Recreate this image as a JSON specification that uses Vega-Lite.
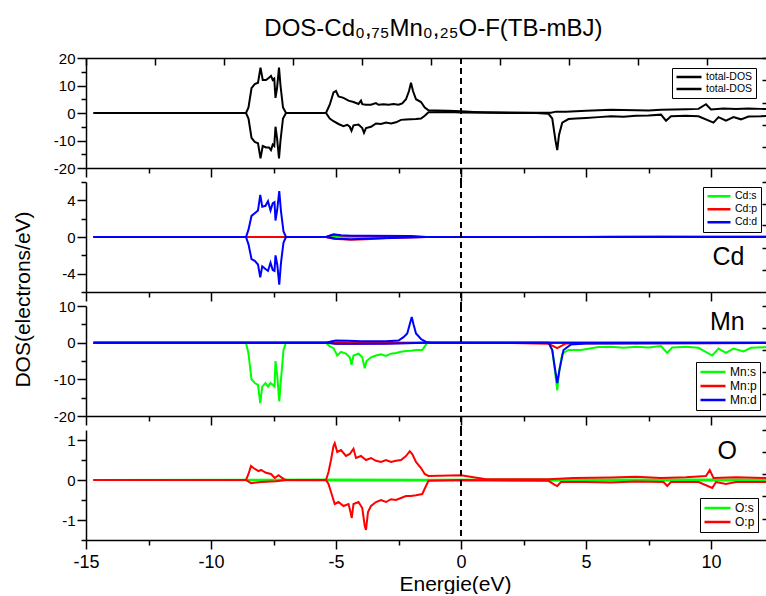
{
  "$schema": "https://vega.github.io/schema/vega-lite/v6.json",
  "background": "white",
  "padding": {"left": 11, "top": 17, "right": 0, "bottom": 0},
  "title": {
    "text": "DOS-Cd₀,₇₅Mn₀,₂₅O-F(TB-mBJ)",
    "font": "Liberation Sans",
    "fontSize": 24,
    "fontWeight": "normal",
    "color": "black",
    "anchor": "middle",
    "dx": 44,
    "offset": 10
  },
  "config": {
    "font": "Liberation Sans",
    "view": {"stroke": null},
    "axis": {
      "grid": false,
      "domainColor": "black",
      "domainWidth": 1.5,
      "tickColor": "black",
      "tickWidth": 1.5,
      "labelColor": "black",
      "labelFont": "Liberation Sans",
      "labelFlush": false,
      "labelOverlap": false,
      "labelBound": false,
      "titleColor": "black",
      "titleFont": "Liberation Sans",
      "titleFontWeight": "normal"
    },
    "legend": {
      "title": null,
      "strokeColor": "black",
      "strokeWidth": 1,
      "fillColor": "white",
      "cornerRadius": 0,
      "padding": 3,
      "rowPadding": 0,
      "labelOffset": 3,
      "labelFont": "Liberation Sans",
      "labelColor": "black",
      "symbolType": "stroke",
      "symbolStrokeWidth": 2.5
    }
  },
  "datasets": {
    "tot": [
      {"e": -14.7, "dos": 0, "spin": "up"}, {"e": -8.6, "dos": 0, "spin": "up"}, {"e": -8.5, "dos": 2, "spin": "up"},
      {"e": -8.38, "dos": 9, "spin": "up"}, {"e": -8.25, "dos": 10.5, "spin": "up"}, {"e": -8.12, "dos": 11, "spin": "up"},
      {"e": -8.02, "dos": 16.5, "spin": "up"}, {"e": -7.93, "dos": 12, "spin": "up"}, {"e": -7.8, "dos": 12, "spin": "up"},
      {"e": -7.68, "dos": 12.8, "spin": "up"}, {"e": -7.6, "dos": 13.5, "spin": "up"}, {"e": -7.53, "dos": 12, "spin": "up"},
      {"e": -7.47, "dos": 12.5, "spin": "up"}, {"e": -7.42, "dos": 5.5, "spin": "up"}, {"e": -7.36, "dos": 9, "spin": "up"},
      {"e": -7.28, "dos": 16.5, "spin": "up"}, {"e": -7.22, "dos": 10, "spin": "up"}, {"e": -7.12, "dos": 2, "spin": "up"},
      {"e": -7.0, "dos": 0, "spin": "up"}, {"e": -5.4, "dos": 0, "spin": "up"}, {"e": -5.25, "dos": 3, "spin": "up"},
      {"e": -5.1, "dos": 7.5, "spin": "up"}, {"e": -5.0, "dos": 8, "spin": "up"}, {"e": -4.9, "dos": 6, "spin": "up"},
      {"e": -4.7, "dos": 5.5, "spin": "up"}, {"e": -4.5, "dos": 4.5, "spin": "up"}, {"e": -4.3, "dos": 4, "spin": "up"},
      {"e": -4.1, "dos": 3.3, "spin": "up"}, {"e": -4.0, "dos": 4.5, "spin": "up"}, {"e": -3.95, "dos": 3.2, "spin": "up"},
      {"e": -3.8, "dos": 3, "spin": "up"}, {"e": -3.6, "dos": 3, "spin": "up"}, {"e": -3.4, "dos": 3.6, "spin": "up"},
      {"e": -3.3, "dos": 3, "spin": "up"}, {"e": -3.1, "dos": 3.2, "spin": "up"}, {"e": -2.9, "dos": 3, "spin": "up"},
      {"e": -2.7, "dos": 3.3, "spin": "up"}, {"e": -2.5, "dos": 3, "spin": "up"}, {"e": -2.35, "dos": 3.5, "spin": "up"},
      {"e": -2.2, "dos": 5, "spin": "up"}, {"e": -2.08, "dos": 8, "spin": "up"}, {"e": -2.0, "dos": 11, "spin": "up"},
      {"e": -1.92, "dos": 8, "spin": "up"}, {"e": -1.8, "dos": 5, "spin": "up"}, {"e": -1.6, "dos": 4, "spin": "up"},
      {"e": -1.45, "dos": 2, "spin": "up"}, {"e": -1.3, "dos": 1, "spin": "up"}, {"e": -1.0, "dos": 0.9, "spin": "up"},
      {"e": -0.5, "dos": 0.8, "spin": "up"}, {"e": 0, "dos": 0.6, "spin": "up"}, {"e": 0.5, "dos": 0.4, "spin": "up"},
      {"e": 1, "dos": 0.3, "spin": "up"}, {"e": 2, "dos": 0.2, "spin": "up"}, {"e": 3, "dos": 0.1, "spin": "up"},
      {"e": 3.6, "dos": 0.1, "spin": "up"}, {"e": 3.8, "dos": 0.5, "spin": "up"}, {"e": 4.2, "dos": 0.5, "spin": "up"},
      {"e": 5, "dos": 0.8, "spin": "up"}, {"e": 5.5, "dos": 1, "spin": "up"}, {"e": 6, "dos": 1.2, "spin": "up"},
      {"e": 6.5, "dos": 1.1, "spin": "up"}, {"e": 7, "dos": 1, "spin": "up"}, {"e": 7.5, "dos": 0.9, "spin": "up"},
      {"e": 8, "dos": 1.2, "spin": "up"}, {"e": 8.5, "dos": 1.3, "spin": "up"}, {"e": 9, "dos": 1.4, "spin": "up"},
      {"e": 9.5, "dos": 1.5, "spin": "up"}, {"e": 9.8, "dos": 3.2, "spin": "up"}, {"e": 10.0, "dos": 1.3, "spin": "up"},
      {"e": 10.5, "dos": 1.6, "spin": "up"}, {"e": 11, "dos": 1.5, "spin": "up"}, {"e": 11.5, "dos": 1.6, "spin": "up"},
      {"e": 12, "dos": 1.5, "spin": "up"}, {"e": 12.3, "dos": 1.4, "spin": "up"},

      {"e": -14.7, "dos": 0, "spin": "dn"}, {"e": -8.6, "dos": 0, "spin": "dn"}, {"e": -8.5, "dos": -2, "spin": "dn"},
      {"e": -8.38, "dos": -9, "spin": "dn"}, {"e": -8.25, "dos": -10.5, "spin": "dn"}, {"e": -8.12, "dos": -11, "spin": "dn"},
      {"e": -8.02, "dos": -16.5, "spin": "dn"}, {"e": -7.93, "dos": -12, "spin": "dn"}, {"e": -7.8, "dos": -12.5, "spin": "dn"},
      {"e": -7.68, "dos": -12.5, "spin": "dn"}, {"e": -7.6, "dos": -13.5, "spin": "dn"}, {"e": -7.53, "dos": -11.5, "spin": "dn"},
      {"e": -7.47, "dos": -12, "spin": "dn"}, {"e": -7.42, "dos": -5, "spin": "dn"}, {"e": -7.36, "dos": -9, "spin": "dn"},
      {"e": -7.28, "dos": -16.5, "spin": "dn"}, {"e": -7.22, "dos": -10, "spin": "dn"}, {"e": -7.12, "dos": -2, "spin": "dn"},
      {"e": -7.0, "dos": 0, "spin": "dn"}, {"e": -5.4, "dos": 0, "spin": "dn"}, {"e": -5.25, "dos": -2, "spin": "dn"},
      {"e": -5.1, "dos": -3, "spin": "dn"}, {"e": -4.9, "dos": -4, "spin": "dn"}, {"e": -4.7, "dos": -4.8, "spin": "dn"},
      {"e": -4.55, "dos": -4.3, "spin": "dn"}, {"e": -4.45, "dos": -5, "spin": "dn"}, {"e": -4.38, "dos": -6.5, "spin": "dn"},
      {"e": -4.3, "dos": -4.5, "spin": "dn"}, {"e": -4.1, "dos": -4.2, "spin": "dn"}, {"e": -3.95, "dos": -5.5, "spin": "dn"},
      {"e": -3.88, "dos": -7.2, "spin": "dn"}, {"e": -3.8, "dos": -5.5, "spin": "dn"}, {"e": -3.6, "dos": -5, "spin": "dn"},
      {"e": -3.4, "dos": -3.8, "spin": "dn"}, {"e": -3.2, "dos": -4, "spin": "dn"}, {"e": -3.0, "dos": -3.5, "spin": "dn"},
      {"e": -2.8, "dos": -3.8, "spin": "dn"}, {"e": -2.6, "dos": -3.4, "spin": "dn"}, {"e": -2.4, "dos": -2.5, "spin": "dn"},
      {"e": -2.2, "dos": -2.4, "spin": "dn"}, {"e": -2.0, "dos": -2.3, "spin": "dn"}, {"e": -1.8, "dos": -2.2, "spin": "dn"},
      {"e": -1.6, "dos": -2, "spin": "dn"}, {"e": -1.45, "dos": -1, "spin": "dn"}, {"e": -1.3, "dos": 0.3, "spin": "dn"},
      {"e": -0.5, "dos": 0.4, "spin": "dn"}, {"e": 0, "dos": 0.2, "spin": "dn"}, {"e": 1, "dos": 0.1, "spin": "dn"},
      {"e": 2, "dos": 0, "spin": "dn"}, {"e": 3, "dos": 0, "spin": "dn"}, {"e": 3.5, "dos": -0.3, "spin": "dn"},
      {"e": 3.65, "dos": -2, "spin": "dn"}, {"e": 3.78, "dos": -10, "spin": "dn"}, {"e": 3.85, "dos": -13.5, "spin": "dn"},
      {"e": 3.92, "dos": -8, "spin": "dn"}, {"e": 4.05, "dos": -3.5, "spin": "dn"}, {"e": 4.3, "dos": -2.2, "spin": "dn"},
      {"e": 4.6, "dos": -2, "spin": "dn"}, {"e": 5, "dos": -1.8, "spin": "dn"}, {"e": 5.5, "dos": -1.5, "spin": "dn"},
      {"e": 6, "dos": -1.2, "spin": "dn"}, {"e": 6.5, "dos": -1.4, "spin": "dn"}, {"e": 7, "dos": -1, "spin": "dn"},
      {"e": 7.5, "dos": -0.9, "spin": "dn"}, {"e": 8, "dos": -0.6, "spin": "dn"}, {"e": 8.2, "dos": -2.8, "spin": "dn"},
      {"e": 8.4, "dos": -1.2, "spin": "dn"}, {"e": 9, "dos": -1, "spin": "dn"}, {"e": 9.5, "dos": -1.2, "spin": "dn"},
      {"e": 10.1, "dos": -3.5, "spin": "dn"}, {"e": 10.3, "dos": -1.5, "spin": "dn"}, {"e": 10.6, "dos": -2.8, "spin": "dn"},
      {"e": 10.9, "dos": -1.5, "spin": "dn"}, {"e": 11.2, "dos": -2.3, "spin": "dn"}, {"e": 11.5, "dos": -1.3, "spin": "dn"},
      {"e": 12, "dos": -1.2, "spin": "dn"}, {"e": 12.3, "dos": -1, "spin": "dn"}
    ],
    "cd": [
      {"e": -14.7, "dos": 0, "orb": "Cd:s", "spin": "up"}, {"e": 5, "dos": 0, "orb": "Cd:s", "spin": "up"},
      {"e": 6, "dos": 0.05, "orb": "Cd:s", "spin": "up"}, {"e": 8, "dos": 0.08, "orb": "Cd:s", "spin": "up"},
      {"e": 10, "dos": 0.05, "orb": "Cd:s", "spin": "up"}, {"e": 12.3, "dos": 0.05, "orb": "Cd:s", "spin": "up"},
      {"e": -14.7, "dos": 0, "orb": "Cd:s", "spin": "dn"}, {"e": 12.3, "dos": 0, "orb": "Cd:s", "spin": "dn"},

      {"e": -14.7, "dos": 0, "orb": "Cd:p", "spin": "up"}, {"e": -5.4, "dos": 0, "orb": "Cd:p", "spin": "up"},
      {"e": -5.1, "dos": 0.25, "orb": "Cd:p", "spin": "up"}, {"e": -4.8, "dos": 0.15, "orb": "Cd:p", "spin": "up"},
      {"e": -4.2, "dos": 0.12, "orb": "Cd:p", "spin": "up"}, {"e": -3, "dos": 0.08, "orb": "Cd:p", "spin": "up"},
      {"e": -1.4, "dos": 0, "orb": "Cd:p", "spin": "up"}, {"e": 12.3, "dos": 0.02, "orb": "Cd:p", "spin": "up"},
      {"e": -14.7, "dos": 0, "orb": "Cd:p", "spin": "dn"}, {"e": -5.4, "dos": 0, "orb": "Cd:p", "spin": "dn"},
      {"e": -5.1, "dos": -0.2, "orb": "Cd:p", "spin": "dn"}, {"e": -4.4, "dos": -0.3, "orb": "Cd:p", "spin": "dn"},
      {"e": -3.8, "dos": -0.25, "orb": "Cd:p", "spin": "dn"}, {"e": -3, "dos": -0.1, "orb": "Cd:p", "spin": "dn"},
      {"e": -1.4, "dos": 0, "orb": "Cd:p", "spin": "dn"}, {"e": 12.3, "dos": 0, "orb": "Cd:p", "spin": "dn"},

      {"e": -14.7, "dos": 0, "orb": "Cd:d", "spin": "up"}, {"e": -8.6, "dos": 0, "orb": "Cd:d", "spin": "up"},
      {"e": -8.5, "dos": 0.8, "orb": "Cd:d", "spin": "up"}, {"e": -8.38, "dos": 2.3, "orb": "Cd:d", "spin": "up"},
      {"e": -8.25, "dos": 2.6, "orb": "Cd:d", "spin": "up"}, {"e": -8.12, "dos": 2.9, "orb": "Cd:d", "spin": "up"},
      {"e": -8.03, "dos": 4.6, "orb": "Cd:d", "spin": "up"}, {"e": -7.95, "dos": 3.3, "orb": "Cd:d", "spin": "up"},
      {"e": -7.82, "dos": 3.4, "orb": "Cd:d", "spin": "up"}, {"e": -7.72, "dos": 3.9, "orb": "Cd:d", "spin": "up"},
      {"e": -7.62, "dos": 2.9, "orb": "Cd:d", "spin": "up"}, {"e": -7.53, "dos": 3.7, "orb": "Cd:d", "spin": "up"},
      {"e": -7.46, "dos": 3.8, "orb": "Cd:d", "spin": "up"}, {"e": -7.42, "dos": 1.8, "orb": "Cd:d", "spin": "up"},
      {"e": -7.35, "dos": 3, "orb": "Cd:d", "spin": "up"}, {"e": -7.27, "dos": 5.0, "orb": "Cd:d", "spin": "up"},
      {"e": -7.2, "dos": 2.8, "orb": "Cd:d", "spin": "up"}, {"e": -7.1, "dos": 0.6, "orb": "Cd:d", "spin": "up"},
      {"e": -7.0, "dos": 0, "orb": "Cd:d", "spin": "up"}, {"e": -5.4, "dos": 0, "orb": "Cd:d", "spin": "up"},
      {"e": -5.1, "dos": 0.3, "orb": "Cd:d", "spin": "up"}, {"e": -4.8, "dos": 0.2, "orb": "Cd:d", "spin": "up"},
      {"e": -4.4, "dos": 0.15, "orb": "Cd:d", "spin": "up"}, {"e": -3.8, "dos": 0.15, "orb": "Cd:d", "spin": "up"},
      {"e": -2, "dos": 0.1, "orb": "Cd:d", "spin": "up"}, {"e": -1.4, "dos": 0, "orb": "Cd:d", "spin": "up"},
      {"e": 12.3, "dos": 0, "orb": "Cd:d", "spin": "up"},
      {"e": -14.7, "dos": 0, "orb": "Cd:d", "spin": "dn"}, {"e": -8.6, "dos": 0, "orb": "Cd:d", "spin": "dn"},
      {"e": -8.5, "dos": -0.8, "orb": "Cd:d", "spin": "dn"}, {"e": -8.38, "dos": -2.4, "orb": "Cd:d", "spin": "dn"},
      {"e": -8.25, "dos": -2.6, "orb": "Cd:d", "spin": "dn"}, {"e": -8.12, "dos": -3, "orb": "Cd:d", "spin": "dn"},
      {"e": -8.03, "dos": -4.4, "orb": "Cd:d", "spin": "dn"}, {"e": -7.95, "dos": -3.2, "orb": "Cd:d", "spin": "dn"},
      {"e": -7.82, "dos": -3.5, "orb": "Cd:d", "spin": "dn"}, {"e": -7.72, "dos": -3.7, "orb": "Cd:d", "spin": "dn"},
      {"e": -7.62, "dos": -2.8, "orb": "Cd:d", "spin": "dn"}, {"e": -7.53, "dos": -3.6, "orb": "Cd:d", "spin": "dn"},
      {"e": -7.46, "dos": -3.7, "orb": "Cd:d", "spin": "dn"}, {"e": -7.42, "dos": -2, "orb": "Cd:d", "spin": "dn"},
      {"e": -7.35, "dos": -3, "orb": "Cd:d", "spin": "dn"}, {"e": -7.27, "dos": -5.2, "orb": "Cd:d", "spin": "dn"},
      {"e": -7.2, "dos": -2.8, "orb": "Cd:d", "spin": "dn"}, {"e": -7.1, "dos": -0.6, "orb": "Cd:d", "spin": "dn"},
      {"e": -7.0, "dos": 0, "orb": "Cd:d", "spin": "dn"}, {"e": -5.4, "dos": 0, "orb": "Cd:d", "spin": "dn"},
      {"e": -5.0, "dos": -0.2, "orb": "Cd:d", "spin": "dn"}, {"e": -4.4, "dos": -0.25, "orb": "Cd:d", "spin": "dn"},
      {"e": -3.8, "dos": -0.2, "orb": "Cd:d", "spin": "dn"}, {"e": -1.4, "dos": 0, "orb": "Cd:d", "spin": "dn"},
      {"e": 12.3, "dos": 0, "orb": "Cd:d", "spin": "dn"}
    ],
    "mn": [
      {"e": -14.7, "dos": 0, "orb": "Mn:s", "spin": "up"}, {"e": 12.3, "dos": 0, "orb": "Mn:s", "spin": "up"},
      {"e": -14.7, "dos": 0, "orb": "Mn:s", "spin": "dn"}, {"e": -8.6, "dos": 0, "orb": "Mn:s", "spin": "dn"},
      {"e": -8.5, "dos": -3, "orb": "Mn:s", "spin": "dn"}, {"e": -8.38, "dos": -10, "orb": "Mn:s", "spin": "dn"},
      {"e": -8.25, "dos": -11, "orb": "Mn:s", "spin": "dn"}, {"e": -8.12, "dos": -11.5, "orb": "Mn:s", "spin": "dn"},
      {"e": -8.03, "dos": -16.5, "orb": "Mn:s", "spin": "dn"}, {"e": -7.95, "dos": -12, "orb": "Mn:s", "spin": "dn"},
      {"e": -7.82, "dos": -11, "orb": "Mn:s", "spin": "dn"}, {"e": -7.72, "dos": -12, "orb": "Mn:s", "spin": "dn"},
      {"e": -7.62, "dos": -11, "orb": "Mn:s", "spin": "dn"}, {"e": -7.53, "dos": -11.5, "orb": "Mn:s", "spin": "dn"},
      {"e": -7.46, "dos": -12, "orb": "Mn:s", "spin": "dn"}, {"e": -7.42, "dos": -5, "orb": "Mn:s", "spin": "dn"},
      {"e": -7.35, "dos": -9, "orb": "Mn:s", "spin": "dn"}, {"e": -7.27, "dos": -16, "orb": "Mn:s", "spin": "dn"},
      {"e": -7.2, "dos": -10, "orb": "Mn:s", "spin": "dn"}, {"e": -7.1, "dos": -2, "orb": "Mn:s", "spin": "dn"},
      {"e": -7.0, "dos": 0, "orb": "Mn:s", "spin": "dn"}, {"e": -5.4, "dos": 0, "orb": "Mn:s", "spin": "dn"},
      {"e": -5.25, "dos": -1, "orb": "Mn:s", "spin": "dn"}, {"e": -5.1, "dos": -1.5, "orb": "Mn:s", "spin": "dn"},
      {"e": -4.95, "dos": -3.5, "orb": "Mn:s", "spin": "dn"}, {"e": -4.8, "dos": -2.5, "orb": "Mn:s", "spin": "dn"},
      {"e": -4.6, "dos": -3, "orb": "Mn:s", "spin": "dn"}, {"e": -4.45, "dos": -4, "orb": "Mn:s", "spin": "dn"},
      {"e": -4.38, "dos": -6, "orb": "Mn:s", "spin": "dn"}, {"e": -4.3, "dos": -3.5, "orb": "Mn:s", "spin": "dn"},
      {"e": -4.1, "dos": -3, "orb": "Mn:s", "spin": "dn"}, {"e": -3.95, "dos": -4, "orb": "Mn:s", "spin": "dn"},
      {"e": -3.85, "dos": -7, "orb": "Mn:s", "spin": "dn"}, {"e": -3.78, "dos": -5, "orb": "Mn:s", "spin": "dn"},
      {"e": -3.6, "dos": -4, "orb": "Mn:s", "spin": "dn"}, {"e": -3.4, "dos": -3.5, "orb": "Mn:s", "spin": "dn"},
      {"e": -3.2, "dos": -3.2, "orb": "Mn:s", "spin": "dn"}, {"e": -3.0, "dos": -3.6, "orb": "Mn:s", "spin": "dn"},
      {"e": -2.8, "dos": -3, "orb": "Mn:s", "spin": "dn"}, {"e": -2.6, "dos": -2.8, "orb": "Mn:s", "spin": "dn"},
      {"e": -2.4, "dos": -2.5, "orb": "Mn:s", "spin": "dn"}, {"e": -2.2, "dos": -2.3, "orb": "Mn:s", "spin": "dn"},
      {"e": -2.0, "dos": -2.2, "orb": "Mn:s", "spin": "dn"}, {"e": -1.8, "dos": -2, "orb": "Mn:s", "spin": "dn"},
      {"e": -1.55, "dos": -2, "orb": "Mn:s", "spin": "dn"}, {"e": -1.45, "dos": -1, "orb": "Mn:s", "spin": "dn"},
      {"e": -1.35, "dos": 0, "orb": "Mn:s", "spin": "dn"}, {"e": 3.5, "dos": 0, "orb": "Mn:s", "spin": "dn"},
      {"e": 3.65, "dos": -2, "orb": "Mn:s", "spin": "dn"}, {"e": 3.78, "dos": -9, "orb": "Mn:s", "spin": "dn"},
      {"e": 3.85, "dos": -13, "orb": "Mn:s", "spin": "dn"}, {"e": 3.92, "dos": -8, "orb": "Mn:s", "spin": "dn"},
      {"e": 4.05, "dos": -3, "orb": "Mn:s", "spin": "dn"}, {"e": 4.3, "dos": -2, "orb": "Mn:s", "spin": "dn"},
      {"e": 4.8, "dos": -2, "orb": "Mn:s", "spin": "dn"}, {"e": 5.5, "dos": -1.2, "orb": "Mn:s", "spin": "dn"},
      {"e": 6, "dos": -1.1, "orb": "Mn:s", "spin": "dn"}, {"e": 6.5, "dos": -1.4, "orb": "Mn:s", "spin": "dn"},
      {"e": 7, "dos": -1.1, "orb": "Mn:s", "spin": "dn"}, {"e": 7.5, "dos": -1.3, "orb": "Mn:s", "spin": "dn"},
      {"e": 8, "dos": -0.9, "orb": "Mn:s", "spin": "dn"}, {"e": 8.25, "dos": -2.8, "orb": "Mn:s", "spin": "dn"},
      {"e": 8.45, "dos": -1.3, "orb": "Mn:s", "spin": "dn"}, {"e": 9, "dos": -1.1, "orb": "Mn:s", "spin": "dn"},
      {"e": 9.5, "dos": -1.4, "orb": "Mn:s", "spin": "dn"}, {"e": 10.05, "dos": -3.5, "orb": "Mn:s", "spin": "dn"},
      {"e": 10.3, "dos": -1.6, "orb": "Mn:s", "spin": "dn"}, {"e": 10.6, "dos": -2.8, "orb": "Mn:s", "spin": "dn"},
      {"e": 10.9, "dos": -1.6, "orb": "Mn:s", "spin": "dn"}, {"e": 11.3, "dos": -2.4, "orb": "Mn:s", "spin": "dn"},
      {"e": 11.6, "dos": -1.4, "orb": "Mn:s", "spin": "dn"}, {"e": 12.3, "dos": -1.2, "orb": "Mn:s", "spin": "dn"},

      {"e": -14.7, "dos": 0, "orb": "Mn:p", "spin": "up"}, {"e": 12.3, "dos": 0, "orb": "Mn:p", "spin": "up"},
      {"e": -14.7, "dos": 0, "orb": "Mn:p", "spin": "dn"}, {"e": -5.3, "dos": 0, "orb": "Mn:p", "spin": "dn"},
      {"e": -5.0, "dos": -0.3, "orb": "Mn:p", "spin": "dn"}, {"e": -4.0, "dos": -0.3, "orb": "Mn:p", "spin": "dn"},
      {"e": -1.4, "dos": 0, "orb": "Mn:p", "spin": "dn"}, {"e": 2, "dos": -0.1, "orb": "Mn:p", "spin": "dn"},
      {"e": 3.5, "dos": -0.3, "orb": "Mn:p", "spin": "dn"}, {"e": 3.85, "dos": -1.5, "orb": "Mn:p", "spin": "dn"},
      {"e": 4.2, "dos": -0.2, "orb": "Mn:p", "spin": "dn"}, {"e": 12.3, "dos": -0.1, "orb": "Mn:p", "spin": "dn"},

      {"e": -14.7, "dos": 0, "orb": "Mn:d", "spin": "up"}, {"e": -5.4, "dos": 0, "orb": "Mn:d", "spin": "up"},
      {"e": -5.2, "dos": 0.3, "orb": "Mn:d", "spin": "up"}, {"e": -5.0, "dos": 0.6, "orb": "Mn:d", "spin": "up"},
      {"e": -4.5, "dos": 0.5, "orb": "Mn:d", "spin": "up"}, {"e": -4.0, "dos": 0.4, "orb": "Mn:d", "spin": "up"},
      {"e": -3.0, "dos": 0.4, "orb": "Mn:d", "spin": "up"}, {"e": -2.5, "dos": 0.6, "orb": "Mn:d", "spin": "up"},
      {"e": -2.3, "dos": 1.5, "orb": "Mn:d", "spin": "up"}, {"e": -2.15, "dos": 2.5, "orb": "Mn:d", "spin": "up"},
      {"e": -2.05, "dos": 5, "orb": "Mn:d", "spin": "up"}, {"e": -1.97, "dos": 7, "orb": "Mn:d", "spin": "up"},
      {"e": -1.9, "dos": 5, "orb": "Mn:d", "spin": "up"}, {"e": -1.8, "dos": 2.5, "orb": "Mn:d", "spin": "up"},
      {"e": -1.6, "dos": 1, "orb": "Mn:d", "spin": "up"}, {"e": -1.4, "dos": 0.2, "orb": "Mn:d", "spin": "up"},
      {"e": -1.2, "dos": 0, "orb": "Mn:d", "spin": "up"}, {"e": 12.3, "dos": 0, "orb": "Mn:d", "spin": "up"},
      {"e": -14.7, "dos": 0, "orb": "Mn:d", "spin": "dn"}, {"e": -5.4, "dos": 0, "orb": "Mn:d", "spin": "dn"},
      {"e": -5.0, "dos": -0.3, "orb": "Mn:d", "spin": "dn"}, {"e": -3.0, "dos": -0.3, "orb": "Mn:d", "spin": "dn"},
      {"e": -1.4, "dos": 0, "orb": "Mn:d", "spin": "dn"}, {"e": 3.5, "dos": 0, "orb": "Mn:d", "spin": "dn"},
      {"e": 3.65, "dos": -2, "orb": "Mn:d", "spin": "dn"}, {"e": 3.78, "dos": -8, "orb": "Mn:d", "spin": "dn"},
      {"e": 3.85, "dos": -11, "orb": "Mn:d", "spin": "dn"}, {"e": 3.95, "dos": -7, "orb": "Mn:d", "spin": "dn"},
      {"e": 4.1, "dos": -2, "orb": "Mn:d", "spin": "dn"}, {"e": 4.4, "dos": -0.5, "orb": "Mn:d", "spin": "dn"},
      {"e": 5, "dos": -0.2, "orb": "Mn:d", "spin": "dn"}, {"e": 12.3, "dos": -0.1, "orb": "Mn:d", "spin": "dn"}
    ],
    "ox": [
      {"e": -14.7, "dos": 0, "orb": "O:s", "spin": "up"}, {"e": -5.2, "dos": 0.01, "orb": "O:s", "spin": "up"},
      {"e": -1.4, "dos": 0.005, "orb": "O:s", "spin": "up"}, {"e": 5, "dos": 0.015, "orb": "O:s", "spin": "up"},
      {"e": 12.3, "dos": 0.015, "orb": "O:s", "spin": "up"},
      {"e": -14.7, "dos": 0, "orb": "O:s", "spin": "dn"}, {"e": -5.2, "dos": -0.01, "orb": "O:s", "spin": "dn"},
      {"e": 5, "dos": -0.015, "orb": "O:s", "spin": "dn"}, {"e": 12.3, "dos": -0.015, "orb": "O:s", "spin": "dn"},

      {"e": -14.7, "dos": 0, "orb": "O:p", "spin": "up"}, {"e": -8.6, "dos": 0, "orb": "O:p", "spin": "up"},
      {"e": -8.5, "dos": 0.15, "orb": "O:p", "spin": "up"}, {"e": -8.4, "dos": 0.35, "orb": "O:p", "spin": "up"},
      {"e": -8.3, "dos": 0.3, "orb": "O:p", "spin": "up"}, {"e": -8.1, "dos": 0.22, "orb": "O:p", "spin": "up"},
      {"e": -8.0, "dos": 0.25, "orb": "O:p", "spin": "up"}, {"e": -7.8, "dos": 0.18, "orb": "O:p", "spin": "up"},
      {"e": -7.6, "dos": 0.15, "orb": "O:p", "spin": "up"}, {"e": -7.45, "dos": 0.05, "orb": "O:p", "spin": "up"},
      {"e": -7.3, "dos": 0.12, "orb": "O:p", "spin": "up"}, {"e": -7.1, "dos": 0.03, "orb": "O:p", "spin": "up"},
      {"e": -7.0, "dos": 0, "orb": "O:p", "spin": "up"}, {"e": -5.4, "dos": 0, "orb": "O:p", "spin": "up"},
      {"e": -5.3, "dos": 0.2, "orb": "O:p", "spin": "up"}, {"e": -5.2, "dos": 0.5, "orb": "O:p", "spin": "up"},
      {"e": -5.1, "dos": 0.85, "orb": "O:p", "spin": "up"}, {"e": -5.05, "dos": 0.92, "orb": "O:p", "spin": "up"},
      {"e": -4.95, "dos": 0.7, "orb": "O:p", "spin": "up"}, {"e": -4.8, "dos": 0.75, "orb": "O:p", "spin": "up"},
      {"e": -4.6, "dos": 0.6, "orb": "O:p", "spin": "up"}, {"e": -4.45, "dos": 0.65, "orb": "O:p", "spin": "up"},
      {"e": -4.3, "dos": 0.78, "orb": "O:p", "spin": "up"}, {"e": -4.2, "dos": 0.55, "orb": "O:p", "spin": "up"},
      {"e": -4.0, "dos": 0.6, "orb": "O:p", "spin": "up"}, {"e": -3.8, "dos": 0.5, "orb": "O:p", "spin": "up"},
      {"e": -3.6, "dos": 0.55, "orb": "O:p", "spin": "up"}, {"e": -3.4, "dos": 0.48, "orb": "O:p", "spin": "up"},
      {"e": -3.2, "dos": 0.45, "orb": "O:p", "spin": "up"}, {"e": -3.0, "dos": 0.5, "orb": "O:p", "spin": "up"},
      {"e": -2.8, "dos": 0.45, "orb": "O:p", "spin": "up"}, {"e": -2.6, "dos": 0.48, "orb": "O:p", "spin": "up"},
      {"e": -2.4, "dos": 0.5, "orb": "O:p", "spin": "up"}, {"e": -2.2, "dos": 0.6, "orb": "O:p", "spin": "up"},
      {"e": -2.05, "dos": 0.72, "orb": "O:p", "spin": "up"}, {"e": -1.95, "dos": 0.65, "orb": "O:p", "spin": "up"},
      {"e": -1.8, "dos": 0.45, "orb": "O:p", "spin": "up"}, {"e": -1.6, "dos": 0.3, "orb": "O:p", "spin": "up"},
      {"e": -1.45, "dos": 0.15, "orb": "O:p", "spin": "up"}, {"e": -1.3, "dos": 0.1, "orb": "O:p", "spin": "up"},
      {"e": 0, "dos": 0.12, "orb": "O:p", "spin": "up"}, {"e": 1, "dos": 0.02, "orb": "O:p", "spin": "up"},
      {"e": 3.5, "dos": 0.02, "orb": "O:p", "spin": "up"}, {"e": 4.5, "dos": 0.05, "orb": "O:p", "spin": "up"},
      {"e": 6, "dos": 0.06, "orb": "O:p", "spin": "up"}, {"e": 7, "dos": 0.08, "orb": "O:p", "spin": "up"},
      {"e": 8, "dos": 0.05, "orb": "O:p", "spin": "up"}, {"e": 9, "dos": 0.07, "orb": "O:p", "spin": "up"},
      {"e": 9.8, "dos": 0.1, "orb": "O:p", "spin": "up"}, {"e": 9.95, "dos": 0.25, "orb": "O:p", "spin": "up"},
      {"e": 10.1, "dos": 0.05, "orb": "O:p", "spin": "up"}, {"e": 11, "dos": 0.07, "orb": "O:p", "spin": "up"},
      {"e": 12.3, "dos": 0.05, "orb": "O:p", "spin": "up"},
      {"e": -14.7, "dos": 0, "orb": "O:p", "spin": "dn"}, {"e": -8.6, "dos": 0, "orb": "O:p", "spin": "dn"},
      {"e": -8.4, "dos": -0.08, "orb": "O:p", "spin": "dn"}, {"e": -8.0, "dos": -0.05, "orb": "O:p", "spin": "dn"},
      {"e": -7.4, "dos": -0.03, "orb": "O:p", "spin": "dn"}, {"e": -7.0, "dos": 0, "orb": "O:p", "spin": "dn"},
      {"e": -5.4, "dos": 0, "orb": "O:p", "spin": "dn"}, {"e": -5.3, "dos": -0.1, "orb": "O:p", "spin": "dn"},
      {"e": -5.15, "dos": -0.4, "orb": "O:p", "spin": "dn"}, {"e": -5.05, "dos": -0.6, "orb": "O:p", "spin": "dn"},
      {"e": -4.9, "dos": -0.55, "orb": "O:p", "spin": "dn"}, {"e": -4.7, "dos": -0.65, "orb": "O:p", "spin": "dn"},
      {"e": -4.5, "dos": -0.6, "orb": "O:p", "spin": "dn"}, {"e": -4.42, "dos": -0.8, "orb": "O:p", "spin": "dn"},
      {"e": -4.37, "dos": -0.95, "orb": "O:p", "spin": "dn"}, {"e": -4.3, "dos": -0.6, "orb": "O:p", "spin": "dn"},
      {"e": -4.1, "dos": -0.55, "orb": "O:p", "spin": "dn"}, {"e": -3.95, "dos": -0.7, "orb": "O:p", "spin": "dn"},
      {"e": -3.85, "dos": -1.15, "orb": "O:p", "spin": "dn"}, {"e": -3.8, "dos": -1.25, "orb": "O:p", "spin": "dn"},
      {"e": -3.72, "dos": -0.8, "orb": "O:p", "spin": "dn"}, {"e": -3.6, "dos": -0.65, "orb": "O:p", "spin": "dn"},
      {"e": -3.4, "dos": -0.55, "orb": "O:p", "spin": "dn"}, {"e": -3.2, "dos": -0.5, "orb": "O:p", "spin": "dn"},
      {"e": -3.0, "dos": -0.55, "orb": "O:p", "spin": "dn"}, {"e": -2.8, "dos": -0.48, "orb": "O:p", "spin": "dn"},
      {"e": -2.6, "dos": -0.5, "orb": "O:p", "spin": "dn"}, {"e": -2.4, "dos": -0.45, "orb": "O:p", "spin": "dn"},
      {"e": -2.2, "dos": -0.4, "orb": "O:p", "spin": "dn"}, {"e": -2.0, "dos": -0.4, "orb": "O:p", "spin": "dn"},
      {"e": -1.8, "dos": -0.38, "orb": "O:p", "spin": "dn"}, {"e": -1.55, "dos": -0.35, "orb": "O:p", "spin": "dn"},
      {"e": -1.4, "dos": -0.15, "orb": "O:p", "spin": "dn"}, {"e": -1.3, "dos": -0.02, "orb": "O:p", "spin": "dn"},
      {"e": 0, "dos": 0, "orb": "O:p", "spin": "dn"}, {"e": 3.5, "dos": -0.02, "orb": "O:p", "spin": "dn"},
      {"e": 3.75, "dos": -0.12, "orb": "O:p", "spin": "dn"}, {"e": 3.85, "dos": -0.15, "orb": "O:p", "spin": "dn"},
      {"e": 4.0, "dos": -0.05, "orb": "O:p", "spin": "dn"}, {"e": 5, "dos": -0.05, "orb": "O:p", "spin": "dn"},
      {"e": 6, "dos": -0.06, "orb": "O:p", "spin": "dn"}, {"e": 7, "dos": -0.04, "orb": "O:p", "spin": "dn"},
      {"e": 8.1, "dos": -0.05, "orb": "O:p", "spin": "dn"}, {"e": 8.25, "dos": -0.15, "orb": "O:p", "spin": "dn"},
      {"e": 8.4, "dos": -0.05, "orb": "O:p", "spin": "dn"}, {"e": 9.5, "dos": -0.05, "orb": "O:p", "spin": "dn"},
      {"e": 10.05, "dos": -0.2, "orb": "O:p", "spin": "dn"}, {"e": 10.2, "dos": -0.05, "orb": "O:p", "spin": "dn"},
      {"e": 10.6, "dos": -0.1, "orb": "O:p", "spin": "dn"}, {"e": 11, "dos": -0.05, "orb": "O:p", "spin": "dn"},
      {"e": 12.3, "dos": -0.05, "orb": "O:p", "spin": "dn"}
    ]
  },
  "resolve": {
    "scale": {"x": "independent", "y": "independent", "color": "independent"},
    "legend": {"color": "independent"}
  },
  "spacing": 14,
  "bounds": "flush",
  "vconcat": [
    {
      "width": 680,
      "height": 110,
      "resolve": {"axis": {"x": "independent", "y": "independent"}},
      "layer": [
        {
          "data": {"name": "tot"},
          "mark": {"type": "line", "strokeWidth": 2, "clip": true},
          "encoding": {
            "x": {"field": "e", "type": "quantitative",
              "scale": {"domain": [-15, 12.2], "nice": false, "zero": false},
              "axis": {"orient": "bottom", "values": [-15, -12.5, -10, -7.5, -5, -2.5, 0, 2.5, 5, 7.5, 10],
                "labels": false, "title": null,
                "tickSize": {"condition": {"test": "datum.value % 5 === 0", "value": 9}, "value": 5}}},
            "y": {"field": "dos", "type": "quantitative",
              "scale": {"domain": [-20, 20], "nice": false, "zero": false},
              "axis": {"orient": "left", "values": [-20, -15, -10, -5, 0, 5, 10, 15, 20], "title": null,
                "labelExpr": "datum.value % 10 === 0 ? '' + datum.value : ''", "labelFontSize": 15, "labelPadding": 2,
                "tickSize": {"condition": {"test": "datum.value % 10 === 0", "value": 9}, "value": 5}}},
            "color": {"field": "spin", "type": "nominal",
              "scale": {"domain": ["up", "dn"], "range": ["black", "black"]},
              "legend": {"orient": "top-right", "offset": 10, "labelExpr": "'total-DOS'",
                "labelFontSize": 10.5, "symbolSize": 625, "clipHeight": 12}}
          }
        },
        {
          "data": {"values": [{}]},
          "mark": {"type": "rule", "strokeDash": [6, 4], "strokeWidth": 2, "color": "black", "clip": false},
          "encoding": {
            "x": {"datum": 0, "type": "quantitative",
              "scale": {"domain": [-15, 12.2], "nice": false, "zero": false},
              "axis": {"orient": "top", "values": [-15, -12.24, -9.48, -6.72, -3.96, -1.2, 1.56, 4.32, 7.08, 9.84],
                "labels": false, "title": null, "tickSize": -7}},
            "y": {"datum": 20, "type": "quantitative",
              "scale": {"domain": [-20, 20], "nice": false, "zero": false},
              "axis": {"orient": "right", "values": [20, 11.9, 3.8, -4.4, -12.5], "labels": false, "title": null,
                "domain": false, "tickSize": -4}},
            "y2": {"datum": -25.1}
          }
        }
      ]
    },
    {
      "width": 680,
      "height": 110,
      "resolve": {"axis": {"x": "independent", "y": "independent"}},
      "layer": [
        {
          "data": {"name": "cd"},
          "mark": {"type": "line", "strokeWidth": 2, "clip": true},
          "encoding": {
            "x": {"field": "e", "type": "quantitative",
              "scale": {"domain": [-15, 12.2], "nice": false, "zero": false},
              "axis": {"orient": "bottom", "values": [-15, -12.5, -10, -7.5, -5, -2.5, 0, 2.5, 5, 7.5, 10],
                "labels": false, "title": null,
                "tickSize": {"condition": {"test": "datum.value % 5 === 0", "value": 9}, "value": 5}}},
            "y": {"field": "dos", "type": "quantitative",
              "scale": {"domain": [-6, 6], "nice": false, "zero": false},
              "axis": {"orient": "left", "values": [-6, -4, -2, 0, 2, 4, 6],
                "labelExpr": "datum.value % 4 === 0 ? '' + datum.value : ''", "labelFontSize": 15, "labelPadding": 2,
                "tickSize": {"condition": {"test": "datum.value % 4 === 0", "value": 9}, "value": 5},
                "title": "DOS(electrons/eV)", "titleFontSize": 21, "titleX": -63, "titleY": 117,
                "titleAngle": -90, "titleBaseline": "middle", "titleAlign": "center"}},
            "color": {"field": "orb", "type": "nominal",
              "scale": {"domain": ["Cd:s", "Cd:p", "Cd:d"], "range": ["#00ff00", "#ff0000", "#0000ff"]},
              "legend": {"orient": "top-right", "offset": 5, "labelFontSize": 10.5, "symbolSize": 529, "clipHeight": 12.5}},
            "detail": {"field": "spin"}
          }
        },
        {
          "data": {"values": [{}]},
          "mark": {"type": "rule", "strokeDash": [6, 4], "strokeWidth": 2, "color": "black", "clip": false},
          "encoding": {
            "x": {"datum": 0, "type": "quantitative", "axis": null,
              "scale": {"domain": [-15, 12.2], "nice": false, "zero": false}},
            "y": {"datum": 6, "type": "quantitative",
              "scale": {"domain": [-6, 6], "nice": false, "zero": false},
              "axis": {"orient": "right", "values": [6, 3.6, 1.3, -1.2, -3.6], "labels": false, "title": null,
                "domain": false, "tickSize": -4}},
            "y2": {"datum": -7.53}
          }
        },
        {
          "data": {"values": [{}]},
          "mark": {"type": "text", "fontSize": 25, "font": "Liberation Sans", "color": "black", "align": "center", "baseline": "middle"},
          "encoding": {
            "x": {"datum": 10.7, "type": "quantitative", "axis": null},
            "y": {"datum": -2.2, "type": "quantitative", "axis": null},
            "text": {"value": "Cd"}
          }
        }
      ]
    },
    {
      "width": 680,
      "height": 110,
      "resolve": {"axis": {"x": "independent", "y": "independent"}},
      "layer": [
        {
          "data": {"name": "mn"},
          "mark": {"type": "line", "strokeWidth": 2, "clip": true},
          "encoding": {
            "x": {"field": "e", "type": "quantitative",
              "scale": {"domain": [-15, 12.2], "nice": false, "zero": false},
              "axis": {"orient": "bottom", "values": [-15, -12.5, -10, -7.5, -5, -2.5, 0, 2.5, 5, 7.5, 10],
                "labels": false, "title": null,
                "tickSize": {"condition": {"test": "datum.value % 5 === 0", "value": 9}, "value": 5}}},
            "y": {"field": "dos", "type": "quantitative",
              "scale": {"domain": [-20, 10], "nice": false, "zero": false},
              "axis": {"orient": "left", "values": [-20, -15, -10, -5, 0, 5, 10], "title": null,
                "labelExpr": "datum.value % 10 === 0 ? '' + datum.value : ''", "labelFontSize": 15, "labelPadding": 2,
                "tickSize": {"condition": {"test": "datum.value % 10 === 0", "value": 9}, "value": 5}}},
            "color": {"field": "orb", "type": "nominal",
              "scale": {"domain": ["Mn:s", "Mn:p", "Mn:d"], "range": ["#00ff00", "#ff0000", "#0000ff"]},
              "legend": {"orient": "bottom-right", "offset": 6, "labelFontSize": 12, "symbolSize": 625, "clipHeight": 14}},
            "detail": {"field": "spin"}
          }
        },
        {
          "data": {"values": [{}]},
          "mark": {"type": "rule", "strokeDash": [6, 4], "strokeWidth": 2, "color": "black", "clip": false},
          "encoding": {
            "x": {"datum": 0, "type": "quantitative", "axis": null,
              "scale": {"domain": [-15, 12.2], "nice": false, "zero": false}},
            "y": {"datum": 10, "type": "quantitative",
              "scale": {"domain": [-20, 10], "nice": false, "zero": false},
              "axis": {"orient": "right", "values": [10, 4, -2, -8, -13.9], "labels": false, "title": null,
                "domain": false, "tickSize": -4}},
            "y2": {"datum": -23.82}
          }
        },
        {
          "data": {"values": [{}]},
          "mark": {"type": "text", "fontSize": 25, "font": "Liberation Sans", "color": "black", "align": "center", "baseline": "middle"},
          "encoding": {
            "x": {"datum": 10.65, "type": "quantitative", "axis": null},
            "y": {"datum": 5.7, "type": "quantitative", "axis": null},
            "text": {"value": "Mn"}
          }
        }
      ]
    },
    {
      "width": 680,
      "height": 110,
      "resolve": {"axis": {"x": "independent", "y": "independent"}},
      "layer": [
        {
          "data": {"name": "ox"},
          "mark": {"type": "line", "strokeWidth": 2, "clip": true},
          "encoding": {
            "x": {"field": "e", "type": "quantitative",
              "scale": {"domain": [-15, 12.2], "nice": false, "zero": false},
              "axis": {"orient": "bottom", "values": [-15, -12.5, -10, -7.5, -5, -2.5, 0, 2.5, 5, 7.5, 10],
                "labelExpr": "datum.value % 5 === 0 ? '' + datum.value : ''", "labelFontSize": 18, "labelPadding": 4,
                "tickSize": {"condition": {"test": "datum.value % 5 === 0", "value": 9}, "value": 5},
                "title": "Energie(eV)", "titleFontSize": 21, "titleX": 369, "titlePadding": 2}},
            "y": {"field": "dos", "type": "quantitative",
              "scale": {"domain": [-1.5, 1.25], "nice": false, "zero": false},
              "axis": {"orient": "left", "values": [-1.5, -1, -0.5, 0, 0.5, 1], "title": null,
                "labelExpr": "datum.value % 1 === 0 ? '' + datum.value : ''", "labelFontSize": 15, "labelPadding": 2,
                "tickSize": {"condition": {"test": "datum.value % 1 === 0", "value": 9}, "value": 5}}},
            "color": {"field": "orb", "type": "nominal",
              "scale": {"domain": ["O:s", "O:p"], "range": ["#00ff00", "#ff0000"]},
              "legend": {"orient": "bottom-right", "offset": 8, "labelFontSize": 12, "symbolSize": 676, "clipHeight": 14}},
            "detail": {"field": "spin"}
          }
        },
        {
          "data": {"values": [{}]},
          "mark": {"type": "rule", "strokeDash": [6, 4], "strokeWidth": 2, "color": "black", "clip": false},
          "encoding": {
            "x": {"datum": 0, "type": "quantitative", "axis": null,
              "scale": {"domain": [-15, 12.2], "nice": false, "zero": false}},
            "y": {"datum": 1.25, "type": "quantitative",
              "scale": {"domain": [-1.5, 1.25], "nice": false, "zero": false},
              "axis": {"orient": "right", "values": [1.25, 0.7, 0.16, -0.4, -0.97], "labels": false, "title": null,
                "domain": false, "tickSize": -4}},
            "y2": {"datum": -1.5}
          }
        },
        {
          "data": {"values": [{}]},
          "mark": {"type": "text", "fontSize": 25, "font": "Liberation Sans", "color": "black", "align": "center", "baseline": "middle"},
          "encoding": {
            "x": {"datum": 10.65, "type": "quantitative", "axis": null},
            "y": {"datum": 0.72, "type": "quantitative", "axis": null},
            "text": {"value": "O"}
          }
        }
      ]
    }
  ]
}
